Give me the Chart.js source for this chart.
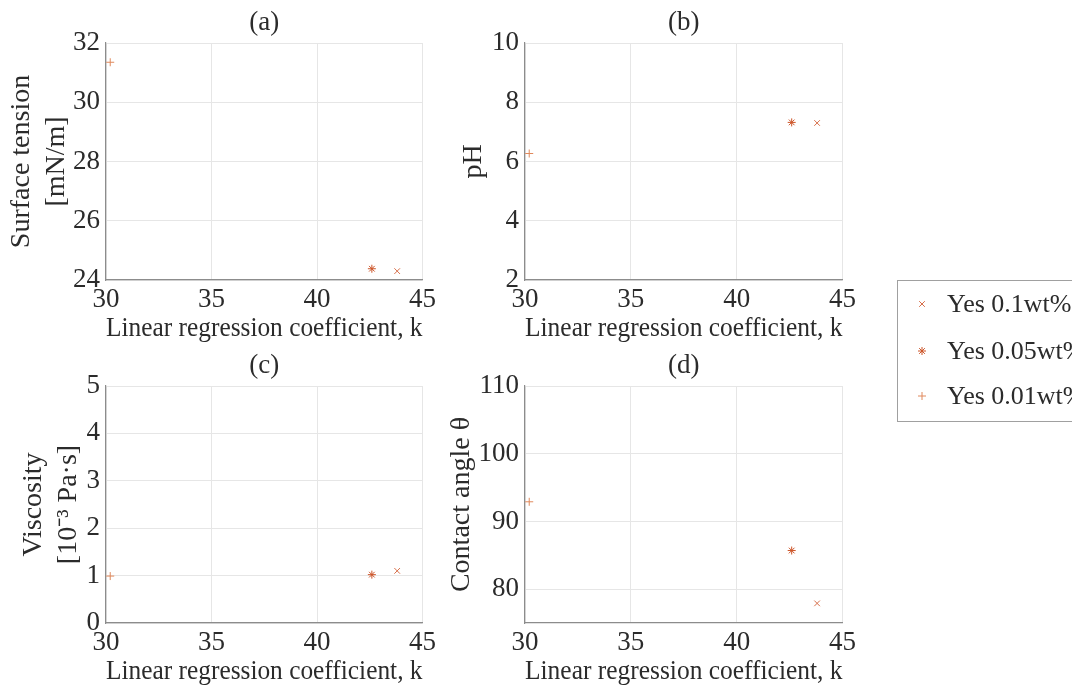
<!DOCTYPE html>
<html>
<head>
<meta charset="utf-8">
<script src="https://cdn.jsdelivr.net/npm/chart.js@4.4.0/dist/chart.umd.min.js"></script>
<style>
  body { margin: 0; width: 1072px; height: 686px; overflow: hidden; background: #fff; position: relative; font-family: "Liberation Serif", serif; }
  canvas.panel { position: absolute; }
  #legend { position: absolute; left: 897px; top: 280px; width: 200px; height: 142px; border: 1px solid #a0a0a0; box-sizing: border-box; background: #fff; }
  .row { position: absolute; left: 0; height: 30px; display: flex; align-items: center; white-space: nowrap; font-size: 26px; color: #2b2b2b; }
  .row canvas { margin-left: 17px; margin-right: 18px; }
</style>
</head>
<body>
<canvas class="panel" id="panelA" width="440" height="345" style="left:0;top:0"></canvas>
<canvas class="panel" id="panelB" width="420" height="345" style="left:440px;top:0"></canvas>
<canvas class="panel" id="panelC" width="440" height="345" style="left:0;top:343px"></canvas>
<canvas class="panel" id="panelD" width="420" height="345" style="left:440px;top:343px"></canvas>
<div id="legend"></div>
<script>
// series: surfactant concentration, one measurement each
const seriesNames = ['Yes 0.1wt%', 'Yes 0.05wt%', 'Yes 0.01wt%'];
const markerStyles = ['crossRot', 'star', 'cross'];
const markerColors = ['#d76f4a', '#cc5428', '#e0895c'];

// linear regression coefficient k for each series
const kValues = [43.8, 42.6, 30.2];

const surfaceTension = [24.3, 24.38, 31.35];
const phValues = [7.3, 7.32, 6.27];
const viscosity = [1.1, 1.02, 0.99];
const contactAngle = [77.9, 85.7, 92.9];

const kTicks = [30, 35, 40, 45];
const tensionTicks = [24, 26, 28, 30, 32];
const phTicks = [2, 4, 6, 8, 10];
const viscosityTicks = [0, 1, 2, 3, 4, 5];
const angleTicks = [80, 90, 100, 110];

const textColor = '#2b2b2b';
const tickFont = { family: 'Liberation Serif', size: 27 };
const xLabelFont = { family: 'Liberation Serif', size: 28 };
const yLabelFont = { family: 'Liberation Serif', size: 28, lineHeight: 1.25 };

// "(a)", "(b)" ... centred over the plot area
const panelTitle = {
  id: 'panelTitle',
  afterDraw(chart, args, opts) {
    const { ctx, chartArea } = chart;
    ctx.save();
    ctx.font = '27px "Liberation Serif"';
    ctx.fillStyle = textColor;
    ctx.textAlign = 'center';
    ctx.textBaseline = 'middle';
    ctx.fillText(opts.text, (chartArea.left + chartArea.right) / 2, chartArea.top - 20);
    ctx.restore();
  }
};

function makePanel(id, letter, yValues, yTicks, yMin, yMax, yTitle, yTitlePad, yWidth) {
  const datasets = seriesNames.map((name, i) => ({
    label: name,
    data: [{ x: kValues[i], y: yValues[i] }],
    pointStyle: markerStyles[i],
    pointRadius: 4,
    pointHoverRadius: 4,
    borderWidth: 1,
    borderColor: markerColors[i],
    backgroundColor: markerColors[i]
  }));

  new Chart(document.getElementById(id), {
    type: 'scatter',
    data: { datasets },
    options: {
      responsive: false,
      animation: false,
      events: [],
      layout: { padding: { top: 43, right: 17, left: 0, bottom: 0 } },
      plugins: {
        legend: { display: false },
        tooltip: { enabled: false },
        panelTitle: { text: letter }
      },
      scales: {
        x: {
          type: 'linear',
          min: 30,
          max: 45,
          afterBuildTicks: s => { s.ticks = kTicks.map(v => ({ value: v })); },
          afterFit: s => { s.height = 65; },
          grid: { color: '#e6e6e6', drawTicks: false },
          border: { color: '#8c8c8c', width: 1.2 },
          ticks: { color: textColor, font: tickFont, padding: 4, maxRotation: 0 },
          title: { display: true, text: 'Linear regression coefficient, k', color: textColor, font: xLabelFont, padding: 0 }
        },
        y: {
          type: 'linear',
          min: yMin,
          max: yMax,
          afterBuildTicks: s => { s.ticks = yTicks.map(v => ({ value: v })); },
          afterFit: s => { s.width = yWidth; },
          grid: { color: '#e6e6e6', drawTicks: false },
          border: { color: '#8c8c8c', width: 1.2 },
          ticks: { color: textColor, font: tickFont, padding: 6 },
          title: { display: true, text: yTitle, color: textColor, font: yLabelFont, padding: { top: yTitlePad, bottom: 0 } }
        }
      }
    },
    plugins: [panelTitle]
  });
}

makePanel('panelA', '(a)', surfaceTension, tensionTicks, 24, 32, ['Surface tension', '[mN/m]'], 4.5, 106);
makePanel('panelB', '(b)', phValues, phTicks, 2, 10, 'pH', 16.5, 85);
makePanel('panelC', '(c)', viscosity, viscosityTicks, 0, 5, ['Viscosity', '[10⁻³ Pa·s]'], 16.5, 106);
makePanel('panelD', '(d)', contactAngle, angleTicks, 75, 110, 'Contact angle θ', 4.5, 85);

// legend box on the right
const legend = document.getElementById('legend');
const rowTops = [8, 55, 100];
seriesNames.forEach((name, i) => {
  const row = document.createElement('div');
  row.className = 'row';
  row.style.top = rowTops[i] + 'px';
  const mark = document.createElement('canvas');
  mark.width = 14;
  mark.height = 14;
  const c = mark.getContext('2d');
  c.strokeStyle = markerColors[i];
  c.lineWidth = 1;
  c.beginPath();
  const r = 4;
  if (markerStyles[i] !== 'crossRot') {
    c.moveTo(7, 7 - r); c.lineTo(7, 7 + r);
    c.moveTo(7 - r, 7); c.lineTo(7 + r, 7);
  }
  if (markerStyles[i] !== 'cross') {
    const d = r * Math.SQRT1_2;
    c.moveTo(7 - d, 7 - d); c.lineTo(7 + d, 7 + d);
    c.moveTo(7 - d, 7 + d); c.lineTo(7 + d, 7 - d);
  }
  c.stroke();
  row.appendChild(mark);
  const label = document.createElement('span');
  label.textContent = name;
  row.appendChild(label);
  legend.appendChild(row);
});
</script>
</body>
</html>
